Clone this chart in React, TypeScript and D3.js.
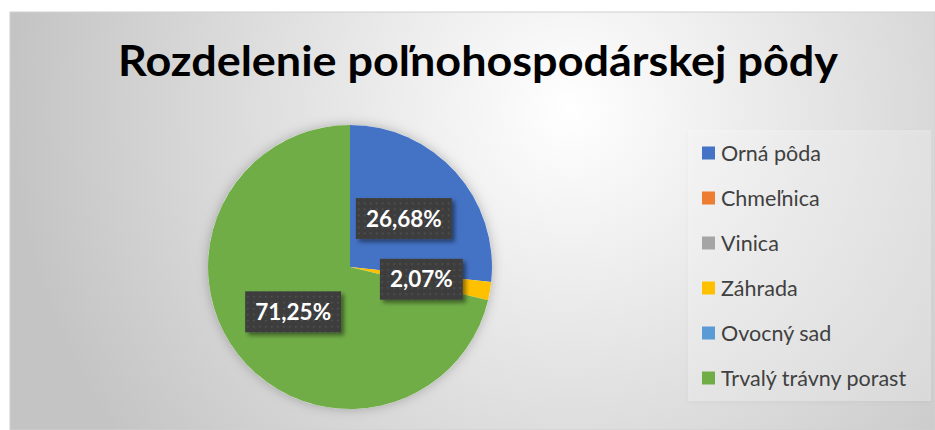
import * as d3 from 'd3';
import React, { useEffect, useRef } from 'react';

const categories = ['Orná pôda', 'Chmeľnica', 'Vinica', 'Záhrada', 'Ovocný sad', 'Trvalý trávny porast'];
const shares = [26.68, 0, 0, 2.07, 0, 71.25];
const colors = ['#4472C4', '#ED7D31', '#A5A5A5', '#FFC000', '#5B9BD5', '#70AD47'];
const title = 'Rozdelenie poľnohospodárskej pôdy';

const W = 935;
const H = 430;

const App = () => {
  const svgRef = useRef<SVGSVGElement>(null);

  useEffect(() => {
    const svg = d3.select(svgRef.current);
    svg.selectAll('*').remove();

    const defs = svg.append('defs');

    const bg = defs.append('radialGradient')
      .attr('id', 'bg')
      .attr('gradientUnits', 'userSpaceOnUse')
      .attr('cx', 570).attr('cy', 110).attr('r', 560);
    bg.append('stop').attr('offset', '0%').attr('stop-color', '#ffffff');
    bg.append('stop').attr('offset', '100%').attr('stop-color', '#c4c4c4');

    const dots = defs.append('pattern')
      .attr('id', 'dots')
      .attr('patternUnits', 'userSpaceOnUse')
      .attr('width', 6).attr('height', 6);
    dots.append('rect').attr('width', 6).attr('height', 6).attr('fill', '#3d3d3d');
    dots.append('rect').attr('x', 2).attr('y', 2).attr('width', 1.5).attr('height', 1.5).attr('fill', '#565656');

    const shadow = defs.append('filter').attr('id', 'shadow')
      .attr('x', '-20%').attr('y', '-20%').attr('width', '150%').attr('height', '160%');
    shadow.append('feDropShadow')
      .attr('dx', 3).attr('dy', 3).attr('stdDeviation', 2)
      .attr('flood-color', '#000').attr('flood-opacity', 0.45);

    const glow = defs.append('filter').attr('id', 'glow')
      .attr('x', '-20%').attr('y', '-20%').attr('width', '140%').attr('height', '140%');
    glow.append('feDropShadow')
      .attr('dx', 0).attr('dy', 0).attr('stdDeviation', 6)
      .attr('flood-color', '#000').attr('flood-opacity', 0.25);

    const legShadow = defs.append('filter').attr('id', 'legShadow')
      .attr('x', '-10%').attr('y', '-10%').attr('width', '120%').attr('height', '120%');
    legShadow.append('feDropShadow')
      .attr('dx', 0).attr('dy', 2).attr('stdDeviation', 2)
      .attr('flood-color', '#000').attr('flood-opacity', 0.12);

    // chart area
    svg.append('rect')
      .attr('x', 10).attr('y', 12)
      .attr('width', W - 10).attr('height', H - 12)
      .attr('fill', 'url(#bg)')
      .attr('stroke', '#d0d0d0');

    svg.append('text')
      .attr('x', 478).attr('y', 76)
      .attr('text-anchor', 'middle')
      .attr('font-family', 'Lato, sans-serif')
      .attr('font-weight', 700)
      .attr('font-size', 42)
      .attr('textLength', 720)
      .attr('lengthAdjust', 'spacingAndGlyphs')
      .attr('fill', '#000')
      .text(title);

    // pie
    const cx = 350, cy = 267, r = 142;
    const pie = d3.pie<number>().sort(null).value(d => d);
    const arcs = pie(shares);
    const arc = d3.arc<d3.PieArcDatum<number>>().innerRadius(0).outerRadius(r);

    const g = svg.append('g').attr('transform', `translate(${cx},${cy})`);
    g.append('circle').attr('r', r).attr('fill', '#fff').attr('filter', 'url(#glow)');
    g.selectAll('path.slice')
      .data(arcs)
      .join('path')
      .attr('class', 'slice')
      .attr('d', arc)
      .attr('fill', (d, i) => colors[i]);

    const fmt = (v: number) => d3.format('.2f')(v).replace('.', ',') + '%';
    const labelArc = d3.arc<d3.PieArcDatum<number>>().innerRadius(r * 0.51).outerRadius(r * 0.51);

    const labels = g.selectAll('g.lbl')
      .data(arcs.filter(d => d.value > 0))
      .join('g')
      .attr('class', 'lbl')
      .attr('transform', d => `translate(${labelArc.centroid(d)})`);

    labels.each(function (d) {
      const lg = d3.select(this);
      const box = lg.append('rect').attr('fill', 'url(#dots)').attr('filter', 'url(#shadow)');
      const t = lg.append('text')
        .attr('text-anchor', 'middle')
        .attr('dy', '0.36em')
        .attr('font-family', 'Lato, sans-serif')
        .attr('font-weight', 700)
        .attr('font-size', 22.5)
        .attr('fill', '#fff')
        .text(fmt(d.value));
      const w = (t.node() as SVGTextElement).getComputedTextLength() + 20;
      box.attr('x', -w / 2).attr('y', -20.5).attr('width', w).attr('height', 41);
    });

    // legend
    svg.append('rect')
      .attr('x', 688).attr('y', 130)
      .attr('width', 243).attr('height', 271)
      .attr('fill', '#ffffff').attr('fill-opacity', 0.25)
      .attr('filter', 'url(#legShadow)');

    const ly = d3.scalePoint<string>().domain(categories).range([153, 378]);
    const items = svg.selectAll('g.leg')
      .data(categories)
      .join('g')
      .attr('class', 'leg')
      .attr('transform', d => `translate(702,${ly(d)})`);
    items.append('rect')
      .attr('x', 0).attr('y', -6.5)
      .attr('width', 13).attr('height', 13)
      .attr('fill', (d, i) => colors[i]);
    items.append('text')
      .attr('x', 19).attr('dy', '0.35em')
      .attr('font-family', 'Lato, sans-serif')
      .attr('font-size', 21.5)
      .attr('fill', '#404040')
      .text(d => d);
  }, []);

  return (
    <svg ref={svgRef} width={W} height={H} style={{ position: 'absolute', left: 0, top: 0 }} />
  );
};

export default App;
